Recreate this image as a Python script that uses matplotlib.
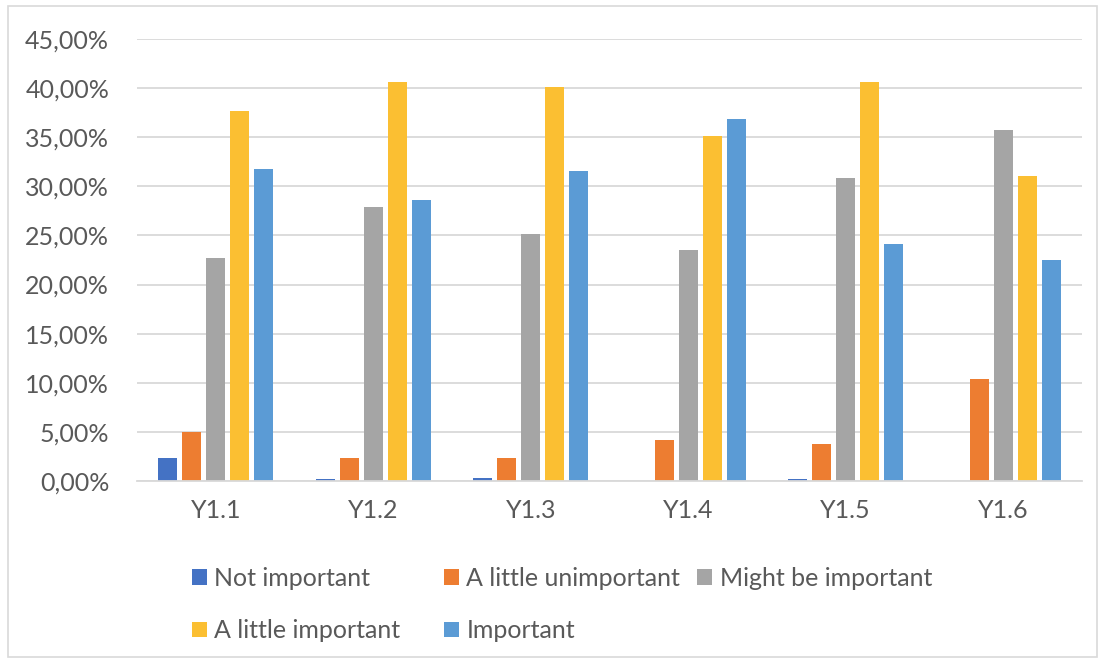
import matplotlib
matplotlib.use('Agg')
import matplotlib.pyplot as plt
import numpy as np
from matplotlib.patches import Rectangle

plt.rcParams['font.family'] = ['Lato', 'DejaVu Sans']

categories = ['Y1.1', 'Y1.2', 'Y1.3', 'Y1.4', 'Y1.5', 'Y1.6']
not_important = [2.3, 0.2, 0.35, 0.0, 0.2, 0.0]
little_unimportant = [4.97, 2.3, 2.3, 4.15, 3.8, 10.4]
might_be_important = [22.7, 27.9, 25.1, 23.5, 30.8, 35.7]
little_important = [37.7, 40.6, 40.1, 35.1, 40.6, 31.1]
important = [31.8, 28.6, 31.6, 36.9, 24.1, 22.5]

series = [
    ('Not important', not_important, '#4472C4'),
    ('A little unimportant', little_unimportant, '#ED7D31'),
    ('Might be important', might_be_important, '#A5A5A5'),
    ('A little important', little_important, '#FBBF32'),
    ('Important', important, '#5B9BD5'),
]

text_color = '#595959'
grid_color = '#D9D9D9'
fs = 18

W, H = 1105, 663
fig = plt.figure(figsize=(W / 100, H / 100), dpi=100)
fig.patches.append(Rectangle((8 / W, 6 / H), 1089 / W, 651 / H, transform=fig.transFigure,
                             fill=False, edgecolor='#D9D9D9', linewidth=1.2))
ax = fig.add_axes([137 / W, 1 - 481 / H, 945 / W, 442 / H])

x = np.arange(len(categories))
width = 0.12
pitch = 0.152
handles = []
for i, (name, vals, color) in enumerate(series):
    offs = (i - 2) * pitch
    b = ax.bar(x + offs, np.array(vals) / 100, width, color=color, label=name, zorder=3)
    handles.append(b)

ax.set_xlim(-0.5, len(categories) - 0.5)
ax.set_ylim(0, 0.45)
yt = np.arange(0, 0.451, 0.05)
ax.set_yticks(yt)
ax.set_yticklabels([('%.2f%%' % (v * 100)).replace('.', ',') for v in yt])
ax.set_xticks(x)
ax.set_xticklabels(categories)
ax.tick_params(axis='both', length=0, labelsize=fs, colors=text_color)
ax.tick_params(axis='y', pad=20)
ax.tick_params(axis='x', pad=13)
ax.yaxis.grid(True, color=grid_color, linewidth=1.3, zorder=0)
for s in ['top', 'right', 'left']:
    ax.spines[s].set_visible(False)
ax.spines['bottom'].set_color(grid_color)
ax.spines['bottom'].set_linewidth(1.3)
ax.spines['bottom'].set_zorder(4)

# legend: three fixed-width columns, filled row by row
columns = [(192, [0, 3]), (444, [1, 4]), (697, [2])]
for xpix, idx in columns:
    leg = fig.legend([handles[i] for i in idx], [series[i][0] for i in idx],
                     loc='upper left', bbox_to_anchor=(xpix / W, 1 - 567 / H),
                     frameon=False, fontsize=fs, labelcolor=text_color,
                     handlelength=0.6, handleheight=0.6, handletextpad=0.3,
                     labelspacing=1.17, borderpad=0, borderaxespad=0)

fig.savefig('out.png', dpi=100)
